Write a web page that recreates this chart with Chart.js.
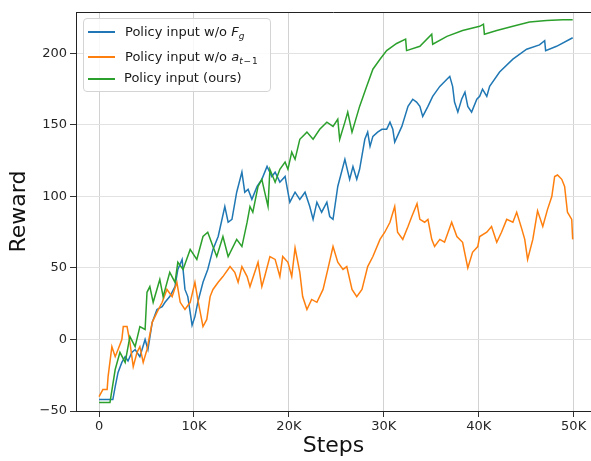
<!DOCTYPE html>
<html>
<head>
<meta charset="utf-8">
<script src="https://cdn.jsdelivr.net/npm/chart.js@4"></script>
<style>
  body { margin: 0; background: #fff; }
  #wrap { position: relative; width: 591px; height: 461px; }
  #legend {
    position: absolute; left: 83px; top: 18px; width: 186px; height: 72px;
    border: 1px solid #d4d4d4; border-radius: 4px; background: rgba(255,255,255,0.85);
    font-family: 'DejaVu Sans'; font-size: 13px; color: #1a1a1a;
  }
  .swatch { position: absolute; left: 4px; width: 27px; height: 2px; }
  .label { position: absolute; left: 41px; height: 15px; line-height: 15px; white-space: nowrap; }
  .label sub { font-size: 9px; vertical-align: -3px; line-height: 0; }
</style>
</head>
<body>
<div id="wrap">
  <canvas id="chart" width="591" height="461"></canvas>
  <div id="legend">
    <div class="swatch" style="top:12px;background:#1f77b4"></div>
    <div class="label" style="top:5px">Policy input w/o <i>F</i><sub><i>g</i></sub></div>
    <div class="swatch" style="top:37px;background:#ff7f0e"></div>
    <div class="label" style="top:30px">Policy input w/o <i>a</i><sub><i>t</i>&#8202;&minus;&#8202;1</sub></div>
    <div class="swatch" style="top:59px;background:#2ca02c"></div>
    <div class="label" style="top:51px;left:40px">Policy input (ours)</div>
  </div>
</div>
<script>
// values
const xTicks = [0, 10000, 20000, 30000, 40000, 50000];
const yTicks = [-50, 0, 50, 100, 150, 200];

const noFgSteps = [0, 1450, 1700, 2000, 2400, 2750, 3050, 3450, 3800, 4300, 4850, 5150, 5600, 6100, 6650, 6950, 7450, 8000, 8300, 8750, 9050, 9350, 9800, 10100, 10400, 10950, 11450, 12000, 12550, 13250, 13600, 14000, 14500, 15050, 15350, 15700, 16100, 16650, 17150, 17700, 18200, 18550, 19050, 19600, 19900, 20100, 20650, 21150, 21700, 22200, 22550, 22950, 23450, 24000, 24300, 24650, 25150, 25900, 26400, 26750, 27150, 27450, 28000, 28300, 28550, 28850, 29350, 29800, 30300, 30650, 30950, 31150, 31900, 32550, 33050, 33450, 33800, 34100, 34650, 35150, 35900, 36650, 36950, 37250, 37450, 37800, 38200, 38550, 38850, 39250, 39800, 40100, 40400, 40850, 41150, 42200, 43600, 45050, 46400, 46950, 47050, 48200, 49900];
const noFgReward = [-42, -42, -33, -23, -16, -12, -15, -9, -7, -12, 0, -7, 12, 21, 23, 26, 30, 37, 49, 56, 35, 30, 10, 16, 26, 40, 49, 63, 72, 93, 82, 84, 103, 117, 103, 105, 98, 107, 112, 121, 114, 117, 110, 114, 103, 96, 103, 98, 103, 93, 84, 96, 89, 96, 86, 84, 107, 126, 112, 121, 112, 119, 140, 145, 135, 142, 145, 147, 147, 152, 147, 138, 149, 163, 168, 166, 163, 156, 163, 170, 177, 182, 184, 177, 166, 159, 168, 173, 163, 159, 168, 170, 175, 170, 177, 187, 196, 203, 206, 209, 202, 205, 211];

const noActSteps = [0, 400, 850, 950, 1350, 1700, 2000, 2400, 2550, 2950, 3250, 3600, 4000, 4300, 4650, 5050, 5600, 6100, 6650, 7150, 7700, 8200, 8550, 9050, 9600, 10100, 10400, 10950, 11350, 11700, 12000, 12550, 13050, 13800, 14300, 14650, 15050, 15600, 15900, 16400, 16750, 17150, 17450, 18000, 18550, 19050, 19350, 19900, 20300, 20650, 21150, 21450, 21900, 22400, 22950, 23600, 24100, 24650, 25150, 25700, 26100, 26650, 27150, 27700, 28300, 28850, 29600, 30100, 30650, 31150, 31450, 32000, 32550, 32950, 33500, 33800, 34300, 34650, 35050, 35350, 35900, 36400, 37150, 37700, 38300, 38850, 39350, 39900, 40100, 40850, 41350, 41900, 42400, 42950, 43600, 44000, 44550, 44850, 45150, 45700, 46200, 46750, 47250, 47700, 48000, 48300, 48750, 49050, 49350, 49800, 49900];
const noActReward = [-40, -35, -35, -26, -5, -12, -7, 0, 9, 9, -2, -19, -9, -5, -16, -7, 12, 19, 26, 35, 30, 40, 26, 21, 26, 40, 28, 9, 14, 30, 35, 40, 44, 51, 47, 40, 51, 44, 37, 47, 54, 37, 44, 58, 56, 44, 58, 54, 44, 64, 47, 30, 21, 28, 26, 35, 49, 65, 54, 49, 51, 35, 30, 35, 51, 58, 70, 75, 82, 93, 75, 70, 79, 86, 95, 84, 82, 84, 70, 65, 70, 68, 82, 72, 68, 50, 61, 65, 72, 75, 79, 68, 75, 84, 82, 89, 77, 70, 56, 70, 90, 79, 91, 100, 114, 115, 112, 107, 89, 84, 70];

const oursSteps = [0, 1150, 1700, 2200, 2750, 3250, 3800, 4300, 4850, 5050, 5350, 5700, 6400, 6750, 7450, 8000, 8300, 8850, 9600, 10300, 10950, 11450, 12000, 12400, 13050, 13600, 14500, 15050, 15600, 15900, 16200, 16750, 17150, 17450, 17800, 18000, 18550, 19050, 19600, 19900, 20300, 20650, 21150, 21900, 22550, 23250, 24000, 24650, 25150, 25350, 25900, 26200, 26650, 27450, 28200, 28850, 29600, 30300, 31350, 32300, 32400, 33800, 35050, 35150, 36650, 38300, 40100, 40500, 40600, 41900, 43600, 45350, 47150, 48850, 49900];
const oursReward = [-44, -44, -21, -9, -16, 2, -5, 9, 7, 33, 37, 26, 42, 30, 47, 40, 54, 49, 63, 56, 72, 75, 65, 58, 72, 58, 70, 65, 82, 93, 89, 107, 112, 103, 93, 119, 110, 119, 124, 119, 131, 126, 140, 145, 140, 147, 152, 149, 154, 140, 152, 159, 145, 163, 177, 189, 196, 202, 207, 210, 202, 205, 213.5, 206.5, 212, 216, 219, 220.5, 213.5, 216, 219, 222, 223, 223.5, 223.5];

const toPoints = (xs, ys) => xs.map((x, i) => ({ x: x, y: ys[i] }));
const tickFont = { family: 'DejaVu Sans', size: 13 };
const titleFont = { family: 'DejaVu Sans', size: 22, lineHeight: 1.2 };

const topSpine = {
  id: 'topSpine',
  afterDatasetsDraw(chart) {
    const { ctx, chartArea } = chart;
    ctx.save();
    ctx.strokeStyle = '#222';
    ctx.lineWidth = 1;
    ctx.beginPath();
    ctx.moveTo(chartArea.left, chartArea.top + 0.5);
    ctx.lineTo(chartArea.right, chartArea.top + 0.5);
    ctx.stroke();
    ctx.restore();
  }
};

new Chart(document.getElementById('chart').getContext('2d'), {
  type: 'line',
  data: {
    datasets: [{
      label: 'Policy input w/o Fg',
      data: toPoints(noFgSteps, noFgReward),
      borderColor: '#1f77b4',
      borderWidth: 1.5,
      order: 2
    }, {
      label: 'Policy input w/o a(t-1)',
      data: toPoints(noActSteps, noActReward),
      borderColor: '#ff7f0e',
      borderWidth: 1.5,
      order: 1
    }, {
      label: 'Policy input (ours)',
      data: toPoints(oursSteps, oursReward),
      borderColor: '#2ca02c',
      borderWidth: 1.5,
      order: 0
    }]
  },
  options: {
    responsive: false,
    animation: false,
    layout: { padding: { top: 12, right: 0, left: 0, bottom: 0 } },
    elements: { point: { radius: 0 }, line: { tension: 0 } },
    plugins: { legend: { display: false }, tooltip: { enabled: false } },
    scales: {
      x: {
        type: 'linear',
        min: -2430,
        max: 51830,
        afterBuildTicks: (scale) => { scale.ticks = xTicks.map(v => ({ value: v })); },
        afterFit: (scale) => { scale.height = 50; },
        ticks: {
          font: tickFont, color: '#262626', padding: 2, maxRotation: 0,
          callback: (v) => v === 0 ? '0' : (v / 1000) + 'K'
        },
        grid: { color: '#d2d2d2', borderDash: [2, 2], tickColor: '#333', tickBorderDash: [], tickLength: 6 },
        border: { color: '#222', width: 1 },
        title: { display: true, text: 'Steps', font: titleFont, color: '#111', padding: { top: 0, bottom: 2 } }
      },
      y: {
        min: -50,
        max: 229,
        afterBuildTicks: (scale) => { scale.ticks = yTicks.map(v => ({ value: v })); },
        afterFit: (scale) => { scale.width = 76; },
        ticks: {
          font: tickFont, color: '#262626', padding: 3,
          callback: (v) => v < 0 ? '\u2212' + Math.abs(v) : String(v)
        },
        grid: { color: '#e2e2e2', tickColor: '#333', tickLength: 6 },
        border: { color: '#222', width: 1 },
        title: { display: true, text: 'Reward', font: titleFont, color: '#111', padding: { top: 6, bottom: 0 } }
      }
    }
  },
  plugins: [topSpine]
});
</script>
</body>
</html>
